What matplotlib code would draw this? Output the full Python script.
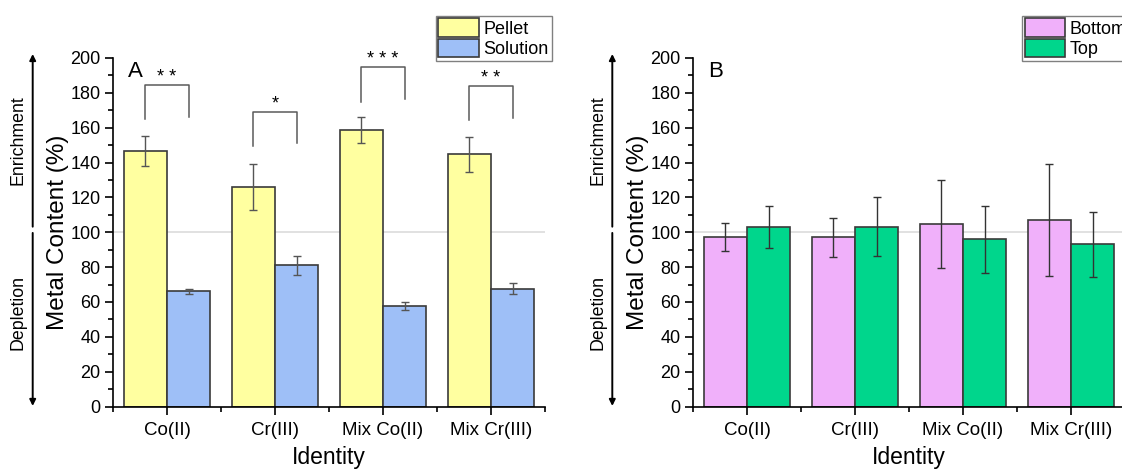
import numpy as np
import matplotlib.pyplot as plt
import matplotlib.transforms as mtransforms
from matplotlib.ticker import MultipleLocator, FixedLocator

plt.rcParams['font.family'] = ['Liberation Sans', 'DejaVu Sans']

# Metal content of each fraction (%), mean and error
identities = ["Co(II)", "Cr(III)", "Mix Co(II)", "Mix Cr(III)"]

pellet = [146.7, 126.0, 158.7, 144.7]
pellet_err = [8.7, 13.0, 7.5, 10.0]
solution = [66.0, 81.0, 57.5, 67.5]
solution_err = [1.5, 5.6, 2.4, 3.2]

bottom = [97.4, 97.2, 104.5, 107.0]
bottom_err = [8.0, 11.2, 25.3, 32.0]
top = [103.0, 103.2, 95.9, 93.2]
top_err = [12.0, 17.0, 19.3, 18.6]

# significance brackets between pellet and solution
bracket_top = [184.7, 169.0, 194.8, 183.8]
bracket_left = [165.2, 149.5, 175.0, 164.4]
bracket_right = [166.3, 151.0, 176.3, 165.4]
stars = ["* *", "*", "* * *", "* *"]

W, H = 1122, 469
fig = plt.figure(figsize=(W / 100, H / 100), dpi=100)

ax_top_px, ax_bot_px = 58, 406.5
axA = fig.add_axes([113 / W, 1 - ax_bot_px / H, 432 / W, (ax_bot_px - ax_top_px) / H])
axB = fig.add_axes([693 / W, 1 - ax_bot_px / H, 432 / W, (ax_bot_px - ax_top_px) / H])

x = np.arange(len(identities))
bw = 0.4
edge = '#3a3a3a'


def draw_panel(ax, v1, e1, v2, e2, c1, c2, l1, l2, letter, ecol):
    ax.axhline(100, color='#dcdcdc', lw=1.2, zorder=0)
    ax.bar(x - bw / 2, v1, bw, color=c1, edgecolor=edge, lw=1.2, label=l1, zorder=2)
    ax.bar(x + bw / 2, v2, bw, color=c2, edgecolor=edge, lw=1.2, label=l2, zorder=2)
    ax.errorbar(x - bw / 2, v1, yerr=e1, fmt='none', ecolor=ecol, elinewidth=1,
                capsize=3, capthick=1, zorder=3)
    ax.errorbar(x + bw / 2, v2, yerr=e2, fmt='none', ecolor=ecol, elinewidth=1,
                capsize=3, capthick=1, zorder=3)
    ax.set_xlim(-0.5, len(identities) - 0.5)
    ax.set_ylim(0, 200)
    ax.set_xticks(x)
    ax.set_xticklabels(identities, fontsize=13.5)
    ax.xaxis.set_minor_locator(FixedLocator(np.arange(-0.5, len(identities), 1.0)))
    ax.yaxis.set_major_locator(MultipleLocator(20))
    ax.yaxis.set_minor_locator(MultipleLocator(10))
    ax.tick_params(axis='both', which='major', direction='out', length=6, width=1.2,
                   labelsize=13, pad=3)
    ax.tick_params(axis='x', which='major', labelsize=13.5, pad=5)
    ax.tick_params(axis='both', which='minor', direction='out', length=3.5, width=1.2)
    for s in ['top', 'right']:
        ax.spines[s].set_visible(False)
    for s in ['left', 'bottom']:
        ax.spines[s].set_linewidth(1.2)
    ax.set_ylabel("Metal Content (%)", fontsize=17.5, labelpad=1)
    ax.set_xlabel("Identity", fontsize=16.5, labelpad=5)
    ax.text(0.035, 0.99, letter, transform=ax.transAxes, fontsize=16, va='top', ha='left')


draw_panel(axA, pellet, pellet_err, solution, solution_err, '#ffffa0', '#9ebff7',
           "Pellet", "Solution", "A", '#555555')
draw_panel(axB, bottom, bottom_err, top, top_err, '#f0b0fa', '#00d68c',
           "Bottom", "Top", "B", '#333333')

# brackets over each pair in panel A
for i in range(len(identities)):
    xl, xr = x[i] - bw / 2, x[i] + bw / 2
    axA.plot([xl, xl, xr, xr], [bracket_left[i], bracket_top[i], bracket_top[i], bracket_right[i]],
             color='#5a5a5a', lw=1.1, clip_on=False, zorder=4)
    axA.text(x[i], bracket_top[i] - 0.5, stars[i], ha='center', va='bottom',
             fontsize=13, clip_on=False)

# legends
for ax, lx in [(axA, 435.7), (axB, 1022)]:
    ax.legend(loc='upper left', bbox_to_anchor=(lx / W, 1 - 15.7 / H),
              bbox_transform=fig.transFigure, fontsize=13, frameon=True, fancybox=False,
              edgecolor='#808080', framealpha=1, borderpad=0.15, borderaxespad=0,
              handlelength=2.25, handleheight=1.2, handletextpad=0.25, labelspacing=0.05)

# enrichment / depletion arrows beside each panel
for ax, ax_x, tx in [(axA, 32.7, 18), (axB, 612.3, 598.5)]:
    trans = mtransforms.blended_transform_factory(fig.transFigure, ax.transData)
    xf = ax_x / W
    arrow = dict(arrowstyle='-|>', color='black', lw=1.4, mutation_scale=9,
                 shrinkA=0, shrinkB=0)
    ax.annotate('', xy=(xf, 202.3), xytext=(xf, 103.2), xycoords=trans, textcoords=trans,
                arrowprops=arrow, annotation_clip=False)
    ax.annotate('', xy=(xf, 0.3), xytext=(xf, 99.6), xycoords=trans, textcoords=trans,
                arrowprops=arrow, annotation_clip=False)
    ax.text(tx / W, 153, "Enrichment", transform=trans, rotation=90, ha='center',
            va='center', fontsize=12.8)
    ax.text(tx / W, 54, "Depletion", transform=trans, rotation=90, ha='center',
            va='center', fontsize=12.8)

fig.savefig("out.png", dpi=100)
